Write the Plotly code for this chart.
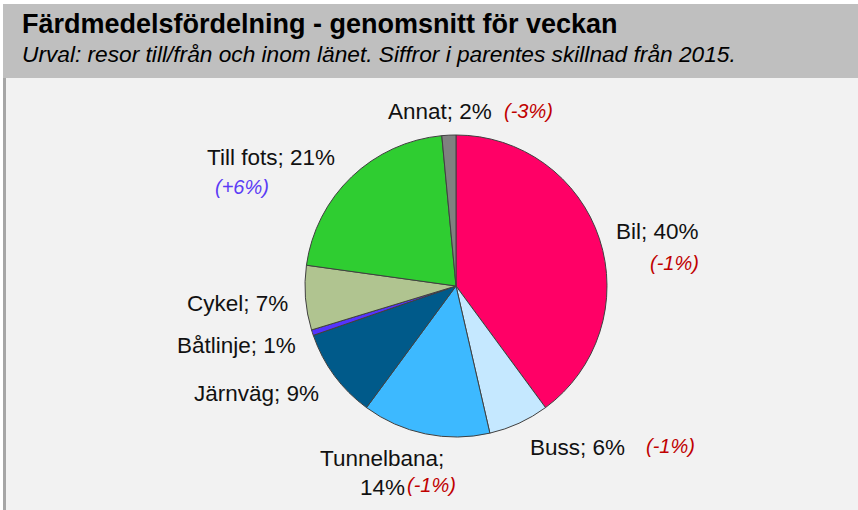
import plotly.graph_objects as go

W, H = 858, 510

categories = ["Bil", "Buss", "Tunnelbana", "Järnväg", "Båtlinje", "Cykel", "Till fots", "Annat"]
shares = [39.9, 6.5, 13.7, 9.6, 0.6, 6.9, 21.3, 1.5]
share_labels = ["40%", "6%", "14%", "9%", "1%", "7%", "21%", "2%"]
changes = ["(-1%)", "(-1%)", "(-1%)", "", "", "", "(+6%)", "(-3%)"]
colors = ["#FF0066", "#C5E8FF", "#3DB9FF", "#005A8A", "#5533FF", "#B0C490", "#2FCD31", "#808080"]

RED = "#C00000"
BLUE = "#5B3CF5"
FONT = "Liberation Sans, Arial, sans-serif"
LBL = 22.5
CHG = 20

cx, cy, r = 456, 286, 151

def px(x):
    return x / W

def py(y):
    return 1 - y / H

fig = go.Figure()
fig.add_trace(go.Pie(
    labels=categories,
    values=shares,
    sort=False,
    direction="clockwise",
    rotation=0,
    textinfo="none",
    hoverinfo="label+percent",
    marker=dict(colors=colors, line=dict(color="#404040", width=1)),
    domain=dict(x=[px(cx - r), px(cx + r)], y=[py(cy + r), py(cy - r)]),
    showlegend=False,
))

shapes = [
    dict(type="rect", xref="paper", yref="paper", x0=px(3), x1=1, y0=py(78), y1=py(4),
         fillcolor="#BFBFBF", line=dict(width=0), layer="below"),
    dict(type="rect", xref="paper", yref="paper", x0=px(6), x1=1, y0=0, y1=py(78),
         fillcolor="#F2F2F2", line=dict(width=0), layer="below"),
    dict(type="rect", xref="paper", yref="paper", x0=px(3), x1=px(6), y0=0, y1=py(78),
         fillcolor="#A6A6A6", line=dict(width=0), layer="below"),
]

def ann(text, x, y, xanchor="left", size=LBL, color="#111111"):
    return dict(text=text, x=px(x), y=py(y), xref="paper", yref="paper",
                xanchor=xanchor, yanchor="middle", showarrow=False,
                font=dict(family=FONT, size=size, color=color))

def it(s):
    return f"<i>{s}</i>"

annotations = [
    ann("<b>Färdmedelsfördelning - genomsnitt för veckan</b>", 20, 24, size=27, color="#000000"),
    ann("<i>Urval: resor till/från och inom länet. Siffror i parentes skillnad från 2015.</i>", 20, 54, size=22.7, color="#000000"),
    # Annat
    ann(f"{categories[7]}; {share_labels[7]}", 386, 111),
    ann(it(changes[7]), 502, 111, size=CHG, color=RED),
    # Till fots
    ann(f"{categories[6]}; {share_labels[6]}", 205, 157),
    ann(it(changes[6]), 213, 187, size=CHG, color=BLUE),
    # Bil
    ann(f"{categories[0]}; {share_labels[0]}", 614, 232),
    ann(it(changes[0]), 648, 263, size=CHG, color=RED),
    # Cykel
    ann(f"{categories[5]}; {share_labels[5]}", 185, 303),
    # Båtlinje
    ann(f"{categories[4]}; {share_labels[4]}", 175, 345),
    # Järnväg
    ann(f"{categories[3]}; {share_labels[3]}", 192, 393),
    # Buss
    ann(f"{categories[1]}; {share_labels[1]}", 528, 447),
    ann(it(changes[1]), 644, 446, size=CHG, color=RED),
    # Tunnelbana
    ann(f"{categories[2]};", 318, 458),
    ann(share_labels[2], 358, 487),
    ann(it(changes[2]), 405, 485, size=CHG, color=RED),
]

fig.update_layout(
    width=W, height=H,
    margin=dict(l=0, r=0, t=0, b=0),
    paper_bgcolor="#FFFFFF",
    shapes=shapes,
    annotations=annotations,
)

fig.write_html(
    "out.html",
    config={"displayModeBar": False},
    post_script="document.body.style.margin='0';document.body.style.overflow='hidden';",
)
